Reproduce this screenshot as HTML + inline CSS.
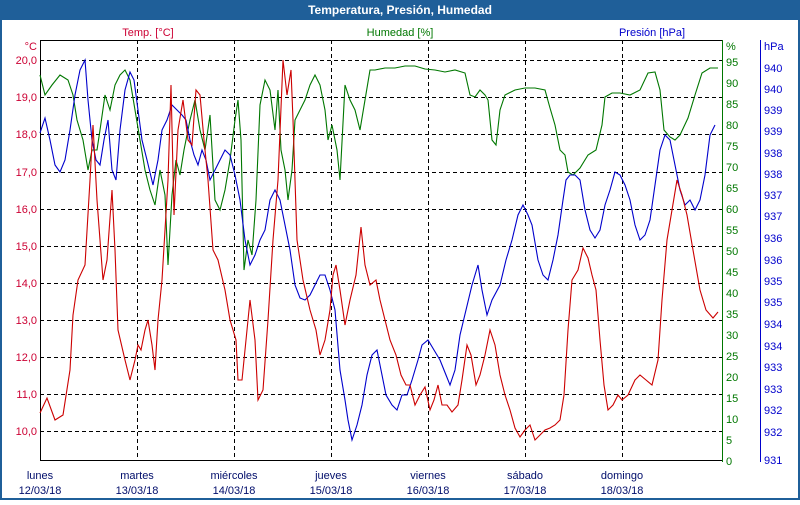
<!DOCTYPE html><html><head><meta charset="utf-8"><style>body{margin:0;width:800px;height:500px;overflow:hidden;background:#fff;font-family:"Liberation Sans","DejaVu Sans",sans-serif}</style></head><body>
<svg width="800" height="500" xmlns="http://www.w3.org/2000/svg" font-family="Liberation Sans, DejaVu Sans, sans-serif" font-size="11">
<rect x="0" y="0" width="800" height="500" fill="#fff"/>
<rect x="0" y="0" width="800" height="20" fill="#1f5f99"/>
<rect x="1" y="1" width="798" height="498" fill="none" stroke="#1f5f99" stroke-width="2"/>
<text x="400" y="14" fill="#fff" font-weight="bold" font-size="12" text-anchor="middle">Temperatura, Presión, Humedad</text>
<g stroke="#000" stroke-dasharray="4,3" stroke-width="1">
<line x1="40" x2="722" y1="60.5" y2="60.5"/><line x1="40" x2="722" y1="97.5" y2="97.5"/><line x1="40" x2="722" y1="134.5" y2="134.5"/><line x1="40" x2="722" y1="172.5" y2="172.5"/><line x1="40" x2="722" y1="209.5" y2="209.5"/><line x1="40" x2="722" y1="246.5" y2="246.5"/><line x1="40" x2="722" y1="283.5" y2="283.5"/><line x1="40" x2="722" y1="320.5" y2="320.5"/><line x1="40" x2="722" y1="357.5" y2="357.5"/><line x1="40" x2="722" y1="394.5" y2="394.5"/><line x1="40" x2="722" y1="431.5" y2="431.5"/>
<line x1="137.5" x2="137.5" y1="40" y2="460"/><line x1="234.5" x2="234.5" y1="40" y2="460"/><line x1="331.5" x2="331.5" y1="40" y2="460"/><line x1="428.5" x2="428.5" y1="40" y2="460"/><line x1="525.5" x2="525.5" y1="40" y2="460"/><line x1="622.5" x2="622.5" y1="40" y2="460"/>
</g>
<line x1="40" x2="722" y1="40.5" y2="40.5" stroke="#000"/>
<line x1="40.5" x2="40.5" y1="40" y2="460" stroke="#000"/>
<line x1="40" x2="722" y1="460.5" y2="460.5" stroke="#000"/>
<line x1="722.5" x2="722.5" y1="40" y2="462" stroke="#007700"/>
<line x1="760.5" x2="760.5" y1="40" y2="462" stroke="#0000cc"/>
<g fill="#cc0033" text-anchor="end">
<text x="37" y="50">°C</text>
<text x="37" y="64">20,0</text><text x="37" y="101">19,0</text><text x="37" y="138">18,0</text><text x="37" y="176">17,0</text><text x="37" y="213">16,0</text><text x="37" y="250">15,0</text><text x="37" y="287">14,0</text><text x="37" y="324">13,0</text><text x="37" y="361">12,0</text><text x="37" y="398">11,0</text><text x="37" y="435">10,0</text>
</g>
<text x="148" y="36" fill="#cc0033" text-anchor="middle">Temp. [°C]</text>
<text x="400" y="36" fill="#007700" text-anchor="middle">Humedad [%]</text>
<text x="652" y="36" fill="#0000cc" text-anchor="middle">Presión [hPa]</text>
<g fill="#007700"><text x="726" y="50">%</text>
<text x="726" y="66">95</text><text x="726" y="87">90</text><text x="726" y="108">85</text><text x="726" y="129">80</text><text x="726" y="150">75</text><text x="726" y="171">70</text><text x="726" y="192">65</text><text x="726" y="213">60</text><text x="726" y="234">55</text><text x="726" y="255">50</text><text x="726" y="276">45</text><text x="726" y="297">40</text><text x="726" y="318">35</text><text x="726" y="339">30</text><text x="726" y="360">25</text><text x="726" y="381">20</text><text x="726" y="402">15</text><text x="726" y="423">10</text><text x="726" y="444">5</text><text x="726" y="465">0</text></g>
<g fill="#0000cc"><text x="764" y="50">hPa</text>
<text x="764" y="72">940</text><text x="764" y="93">940</text><text x="764" y="114">939</text><text x="764" y="135">939</text><text x="764" y="157">938</text><text x="764" y="178">938</text><text x="764" y="199">937</text><text x="764" y="220">937</text><text x="764" y="242">936</text><text x="764" y="264">936</text><text x="764" y="285">935</text><text x="764" y="306">935</text><text x="764" y="328">934</text><text x="764" y="350">934</text><text x="764" y="371">933</text><text x="764" y="393">933</text><text x="764" y="414">932</text><text x="764" y="436">932</text><text x="764" y="464">931</text></g>
<g fill="#000d6b" text-anchor="middle">
<text x="40" y="479">lunes</text><text x="40" y="494">12/03/18</text>
<text x="137" y="479">martes</text><text x="137" y="494">13/03/18</text>
<text x="234" y="479">miércoles</text><text x="234" y="494">14/03/18</text>
<text x="331" y="479">jueves</text><text x="331" y="494">15/03/18</text>
<text x="428" y="479">viernes</text><text x="428" y="494">16/03/18</text>
<text x="525" y="479">sábado</text><text x="525" y="494">17/03/18</text>
<text x="622" y="479">domingo</text><text x="622" y="494">18/03/18</text>
</g>
<g fill="none" stroke-width="1.1">
<polyline stroke="#007700" points="40,75 45,95 52,85 60,75 68,80 73,95 77,120 83,140 88,170 92,150 97,150 100,130 105,95 110,110 115,85 120,75 125,70 130,80 135,110 140,140 145,170 150,190 155,205 160,170 165,195 168,265 172,195 176,160 180,175 184,150 190,120 195,100 200,130 205,150 210,115 215,200 220,210 225,190 230,160 235,120 238,100 241,140 244,270 248,240 252,255 256,200 260,105 265,80 270,90 275,130 278,90 281,150 285,170 288,200 292,170 295,120 300,110 305,100 310,85 315,75 320,85 325,110 328,140 332,125 337,150 340,180 345,85 350,100 355,110 360,130 365,100 370,70 375,70 385,68 395,68 405,66 415,66 425,69 435,70 445,72 455,70 465,73 470,95 475,97 480,90 485,95 488,100 492,140 496,145 500,110 505,95 515,90 525,88 535,88 545,90 550,108 555,125 560,150 565,155 568,172 573,175 580,168 588,155 596,150 602,125 605,97 612,93 620,93 630,95 640,90 648,73 655,72 660,90 664,130 670,137 675,140 680,135 688,118 695,95 702,73 710,68 718,68"/>
<polyline stroke="#0000cc" points="40,133 45,118 50,140 55,165 60,172 65,160 70,130 75,95 80,70 85,60 88,100 92,140 96,160 100,165 104,140 108,120 112,170 116,180 120,130 125,90 130,72 134,80 138,110 142,140 147,160 153,185 158,160 162,130 167,120 172,105 177,110 182,115 186,120 190,140 194,155 198,165 202,150 206,160 210,180 215,170 220,160 225,150 230,155 235,175 240,200 245,240 250,265 255,255 260,240 265,230 270,200 275,190 280,200 285,225 290,250 295,285 300,298 305,300 310,295 315,285 320,275 325,275 330,290 335,310 340,370 345,400 348,420 352,440 357,425 362,405 367,375 372,355 377,350 382,375 386,395 392,405 397,410 402,395 407,395 412,380 418,360 422,345 428,340 434,350 440,360 446,375 450,385 455,370 460,335 466,310 472,285 478,265 482,290 487,315 492,300 500,285 506,260 512,240 518,215 523,205 528,215 532,225 538,260 543,275 548,280 553,260 558,235 563,200 566,180 570,175 575,175 580,180 585,210 590,230 595,238 600,230 605,205 610,190 615,172 620,175 625,185 630,200 635,225 640,240 645,235 650,220 655,185 660,150 665,135 670,140 675,165 680,190 685,205 690,200 695,210 700,200 705,175 710,135 715,125"/>
<polyline stroke="#cc0000" points="40,413 47,398 55,420 63,415 70,370 73,315 78,280 85,265 90,180 93,125 97,200 103,280 107,260 112,190 115,250 118,330 125,360 130,380 135,360 138,345 141,350 145,330 148,320 152,345 155,370 158,320 162,280 168,180 171,85 174,215 178,130 183,100 188,140 192,145 196,90 200,95 204,140 208,180 213,250 218,260 225,290 230,320 236,340 238,380 242,380 246,340 250,300 255,340 258,400 263,390 268,320 273,240 278,180 283,60 287,95 291,70 293,120 297,240 303,280 310,310 316,330 320,355 325,340 330,310 333,275 336,265 340,290 345,325 350,300 356,275 361,227 365,265 370,285 376,280 380,300 385,320 390,340 396,355 401,375 406,385 410,385 415,405 420,395 425,387 430,410 434,400 438,385 442,405 447,405 452,412 458,405 462,380 467,345 471,355 476,385 480,375 485,355 490,330 495,345 500,375 505,395 510,410 515,428 520,437 525,430 530,425 535,440 540,435 545,430 550,428 555,425 560,420 564,395 568,330 572,280 578,270 583,248 588,258 592,275 596,290 600,340 604,385 608,410 613,405 618,395 622,400 628,395 635,380 640,375 646,380 652,385 658,360 662,300 667,240 672,210 677,180 682,195 687,215 693,250 700,290 706,310 713,318 718,312"/>
</g>
</svg></body></html>
